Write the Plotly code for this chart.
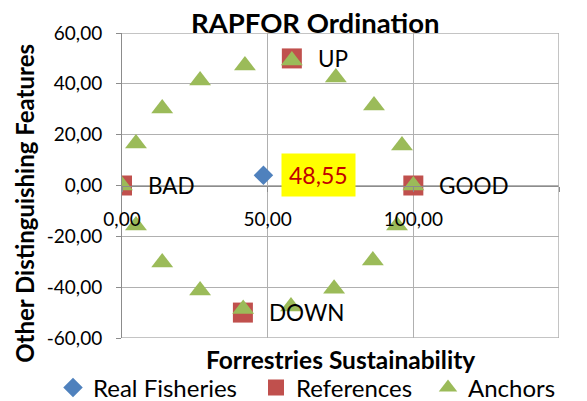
import plotly.graph_objects as go

# ---- data ----
real_x = [48.55]
real_y = [4.0]

ref_names = ["BAD", "GOOD", "UP", "DOWN"]
ref_x = [0.0, 100.0, 58.3, 41.5]
ref_y = [0.0, 0.0, 50.0, -50.0]

anchor_x = [0, 4.8, 13.8, 26.8, 42.2, 58.3, 73.4, 86.5, 96.1, 100,
            4.8, 13.8, 26.8, 41.6, 58.0, 72.8, 86.1, 94.4]
anchor_y = [0, 16.5, 30.3, 41.3, 47.2, 49.2, 42.5, 31.5, 15.7, 0,
            -15.7, -30.3, -41.3, -48.6, -47.6, -40.6, -29.5, -15.7]

x_ticks = [0, 50, 100, 150]
y_ticks = [-60, -40, -20, 0, 20, 40, 60]


def fmt(v):
    return f"{v:.2f}".replace(".", ",")


FONT = "Lato"
BLUE = "#4F81BD"
RED = "#C0504D"
GREEN = "#9BBB59"
GRID = "#B0B0B0"
AXIS = "#8C8C8C"

fig = go.Figure()
fig.add_trace(go.Scatter(x=real_x, y=real_y, mode="markers", name="Real Fisheries",
                         legend="legend",
                         marker=dict(symbol="diamond", size=15, color=BLUE)))
fig.add_trace(go.Scatter(x=ref_x, y=ref_y, mode="markers", name="References",
                         legend="legend2",
                         marker=dict(symbol="square", size=20, color=RED)))
fig.add_trace(go.Scatter(x=anchor_x, y=anchor_y, mode="markers", name="Anchors",
                         legend="legend3",
                         marker=dict(symbol="triangle-up", size=19, color=GREEN)))

annotations = []
for n, xx, yy in zip(ref_names, ref_x, ref_y):
    annotations.append(dict(x=xx, y=yy, xref="x", yref="y", text=n, showarrow=False,
                            xanchor="left", yanchor="middle", xshift=24,
                            font=dict(family=FONT, size=22.5, color="black")))
for xx, yy in zip(real_x, real_y):
    annotations.append(dict(x=xx, y=yy, xref="x", yref="y",
                            text=fmt(xx), showarrow=False,
                            xanchor="left", yanchor="middle", xshift=18,
                            bgcolor="#FFFF00", borderpad=7,
                            font=dict(family=FONT, size=23, color="#C00000")))
annotations.append(dict(x=0.501, y=-0.072, xref="paper", yref="paper",
                        text="<b>Forrestries Sustainability</b>", showarrow=False,
                        xanchor="center", yanchor="middle",
                        font=dict(family=FONT, size=24.5, color="black")))
annotations.append(dict(x=-0.222, y=0.443, xref="paper", yref="paper",
                        text="<b>Other Distinguishing Features</b>", showarrow=False,
                        textangle=-90, xanchor="center", yanchor="middle",
                        font=dict(family=FONT, size=24, color="black")))

# frame lines at the outer tick values (plotly drops edge gridlines)
shapes = [
    dict(type="line", xref="x", yref="y", x0=x_ticks[-1], x1=x_ticks[-1],
         y0=y_ticks[0], y1=y_ticks[-1], line=dict(color=GRID, width=1.5)),
    dict(type="line", xref="x", yref="y", x0=x_ticks[0], x1=x_ticks[-1],
         y0=y_ticks[-1], y1=y_ticks[-1], line=dict(color=GRID, width=1.5)),
    dict(type="line", xref="x", yref="y", x0=x_ticks[0], x1=x_ticks[-1],
         y0=y_ticks[0], y1=y_ticks[0], line=dict(color=GRID, width=1.5)),
]


def leg(xpx):
    return dict(orientation="h", xref="container", yref="container",
                x=xpx / 587, xanchor="left", y=1 - 388 / 401, yanchor="middle",
                font=dict(family=FONT, size=24, color="black"),
                itemsizing="trace", bgcolor="rgba(0,0,0,0)")


fig.update_layout(
    width=587, height=401,
    margin=dict(l=122, r=28, t=33, b=63, autoexpand=False),
    paper_bgcolor="white", plot_bgcolor="white",
    font=dict(family=FONT, size=19, color="black"),
    title=dict(text="<b>RAPFOR Ordination</b>", x=0.537, xanchor="center",
               y=1 - 23 / 401, yanchor="middle", xref="container", yref="container",
               font=dict(family=FONT, size=27.5, color="black")),
    showlegend=True,
    legend=leg(53),
    legend2=leg(256),
    legend3=leg(428),
    annotations=annotations,
    shapes=shapes,
)
fig.update_xaxes(range=[0, 150], tickvals=x_ticks, ticktext=[fmt(v) for v in x_ticks],
                 anchor="free", position=0.5,
                 showgrid=True, gridcolor=GRID, gridwidth=1,
                 zeroline=False, showline=True, linecolor=AXIS, linewidth=1,
                 ticks="outside", ticklen=5, tickcolor=AXIS,
                 ticklabelstandoff=12,
                 tickfont=dict(family=FONT, size=19, color="black"))
fig.update_yaxes(range=[-60, 60], tickvals=y_ticks, ticktext=[fmt(v) for v in y_ticks],
                 showgrid=True, gridcolor=GRID, gridwidth=1,
                 zeroline=False, showline=True, linecolor=AXIS, linewidth=1,
                 ticks="outside", ticklen=5, tickcolor=AXIS,
                 ticklabelstandoff=10,
                 tickfont=dict(family=FONT, size=19, color="black"))

fig.write_html("out.html", config={"displayModeBar": False},
               post_script="document.body.style.margin='0px';")
